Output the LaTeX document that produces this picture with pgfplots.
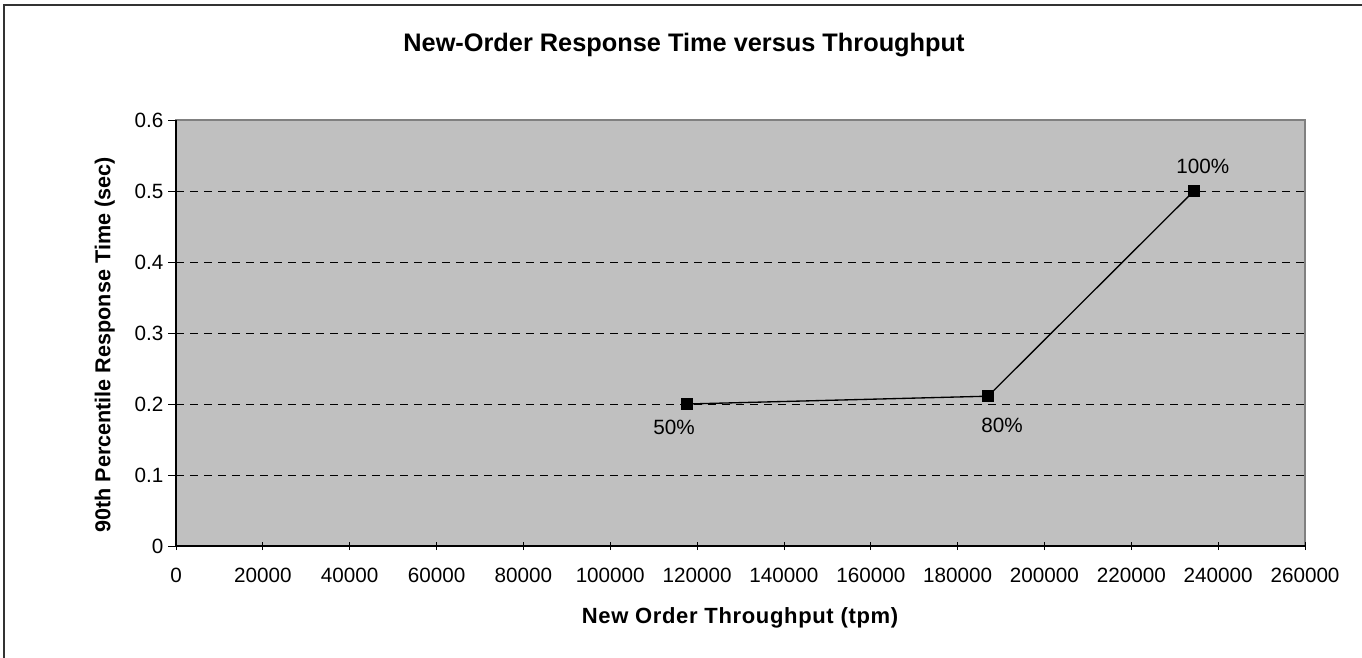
\documentclass[border=0pt]{standalone}
\usepackage{pgfplots}
\pgfplotsset{compat=1.18}
\usepackage{fontspec}
\setmainfont{Liberation Sans}
\definecolor{plotgray}{HTML}{C0C0C0}
\begin{document}
\begin{tikzpicture}
\useasboundingbox (0,0) rectangle (1021.5pt,492.75pt);
\draw[line width=1.3pt, black!80] (3pt,-2pt) -- (3pt,489pt) -- (1025pt,489pt);
\node[font=\fontsize{19}{22}\selectfont\bfseries] at (513pt,459pt) {New-Order Response Time versus Throughput};
\node[font=\fontsize{16.5}{19}\selectfont\bfseries\addfontfeature{LetterSpace=3}] at (555pt,29.25pt) {New Order Throughput (tpm)};
\node[font=\fontsize{16.2}{19}\selectfont\bfseries, rotate=90] at (78.5pt,234pt) {90th Percentile Response Time (sec)};
\begin{axis}[
  at={(132pt,83.25pt)}, anchor=south west,
  scale only axis, width=846.75pt, height=319.5pt,
  xmin=0, xmax=260000, ymin=0, ymax=0.6,
  axis lines=left, axis line style={-, black, line width=0.8pt},
  axis background/.style={fill=plotgray, draw=gray, line width=0.8pt},
  xtick={0,20000,...,260000}, ytick={0,0.1,...,0.6},
  scaled ticks=false,
  xticklabel style={yshift=-10pt, /pgf/number format/.cd, fixed, set thousands separator={}, assume math mode=true},
  yticklabel style={/pgf/number format/.cd, fixed, precision=1, assume math mode=true},
  ticklabel style={font=\fontsize{15.5}{18}\selectfont},
  major tick length=6pt,
  xtick align=center, ytick align=outside,
  tick style={black, line width=0.6pt},
  extra y ticks={0.1,0.2,0.3,0.4,0.5}, extra y tick labels={},
  extra y tick style={grid=major, tick style={draw=none}},
  major grid style={black, dash pattern=on 6pt off 4.5pt, line width=0.6pt},
  clip=false,
]
\addplot[black, line width=1pt, mark=square*, mark size=4pt] coordinates {
  (117700,0.200) (187000,0.211) (234400,0.500)
};
\node[font=\fontsize{15.5}{18}\selectfont] at (axis cs:117700,0.2) [xshift=-9.75pt, yshift=-17.25pt] {50\%};
\node[font=\fontsize{15.5}{18}\selectfont] at (axis cs:187000,0.211) [xshift=10.5pt, yshift=-21.75pt] {80\%};
\node[font=\fontsize{15.5}{18}\selectfont] at (axis cs:234400,0.5) [xshift=6.75pt, yshift=18.75pt] {100\%};
\end{axis}
\end{tikzpicture}
\end{document}
